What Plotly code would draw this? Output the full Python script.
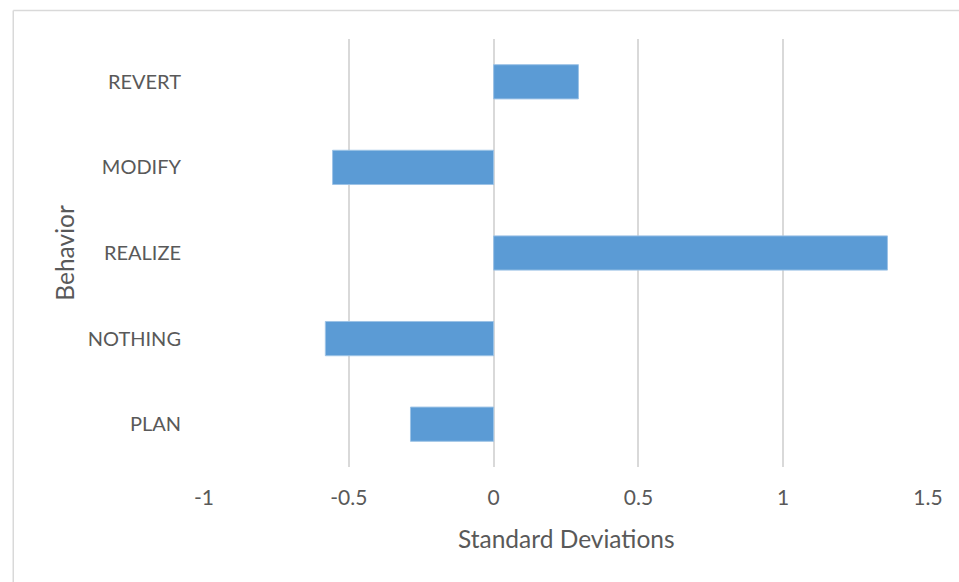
import plotly.graph_objects as go

# Behaviour scores in standard deviations
behaviors = ["PLAN", "NOTHING", "REALIZE", "MODIFY", "REVERT"]
std_devs = [-0.287, -0.581, 1.360, -0.556, 0.293]

x_ticks = [-1, -0.5, 0, 0.5, 1, 1.5]
x_tick_text = ["-1", "-0.5", "0", "0.5", "1", "1.5"]

W, H = 959, 582
ML, MR, MT, MB = 203.5, 30.5, 39, 115
TEXT = "#595959"
FONT = "Lato"

fig = go.Figure(
    go.Bar(
        x=std_devs,
        y=behaviors,
        orientation="h",
        marker=dict(color="#5b9bd5", line=dict(color="#9dc3e6", width=1)),
        width=0.4,
    )
)

pw = W - ML - MR
ph = H - MT - MB


def px_to_paper_x(px):
    return (px - ML) / pw


def px_to_paper_y(py):
    return (H - MB - py) / ph


# outer chart frame (top and left edges visible)
fig.add_shape(
    type="line", xref="paper", yref="paper",
    x0=px_to_paper_x(12.5), x1=px_to_paper_x(W + 5),
    y0=px_to_paper_y(10.5), y1=px_to_paper_y(10.5),
    line=dict(color="#d9d9d9", width=1.5),
)
fig.add_shape(
    type="line", xref="paper", yref="paper",
    x0=px_to_paper_x(12.5), x1=px_to_paper_x(12.5),
    y0=px_to_paper_y(10.5), y1=px_to_paper_y(H + 5),
    line=dict(color="#d9d9d9", width=1.5),
)

# axis titles
fig.add_annotation(
    text="Standard Deviations", xref="paper", yref="paper",
    x=0.5, y=px_to_paper_y(538), xanchor="center", yanchor="middle",
    showarrow=False, font=dict(family=FONT, color=TEXT, size=24.5),
)
fig.add_annotation(
    text="Behavior", xref="paper", yref="paper",
    x=px_to_paper_x(63), y=0.5, xanchor="center", yanchor="middle",
    textangle=-90, showarrow=False, font=dict(family=FONT, color=TEXT, size=24.5),
)

fig.update_layout(
    width=W,
    height=H,
    margin=dict(l=ML, r=MR, t=MT, b=MB, pad=0),
    paper_bgcolor="white",
    plot_bgcolor="white",
    showlegend=False,
    font=dict(family=FONT, color=TEXT, size=20),
    xaxis=dict(
        range=[-1, 1.5],
        tickvals=x_ticks,
        ticktext=x_tick_text,
        showgrid=True,
        gridcolor="#d9d9d9",
        gridwidth=1.5,
        zeroline=False,
        showline=False,
        ticks="",
        ticklen=0,
        ticklabelstandoff=16,
        tickfont=dict(family=FONT, color=TEXT, size=21),
        fixedrange=True,
    ),
    yaxis=dict(
        categoryorder="array",
        categoryarray=behaviors,
        showgrid=False,
        zeroline=False,
        showline=False,
        ticks="",
        ticklen=0,
        ticklabelstandoff=22,
        tickfont=dict(family=FONT, color=TEXT, size=20),
        fixedrange=True,
    ),
)

fig.write_html("out.html")
